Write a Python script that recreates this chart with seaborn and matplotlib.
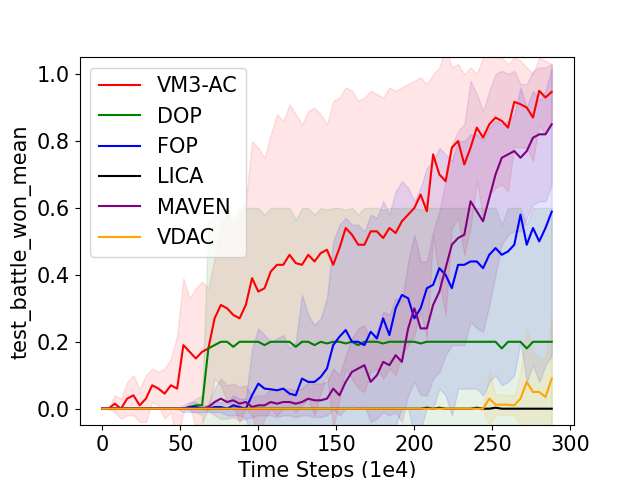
import numpy as np
import pandas as pd
import matplotlib
matplotlib.use('Agg')
import matplotlib.pyplot as plt
import seaborn as sns

plt.rcParams['font.size'] = 15

# x axis: time steps (1e4), sampled every 4
steps = np.arange(0, 289, 4)

algos = ['VM3-AC', 'DOP', 'FOP', 'LICA', 'MAVEN', 'VDAC']
colors = ['red', 'green', 'blue', 'black', 'purple', 'orange']

# mean curves
vm3ac_mean = [0, 0, 0.015, 0, 0.03, 0.04, 0.01, 0.03, 0.07, 0.06,
              0.045, 0.07, 0.06, 0.19, 0.17, 0.15, 0.17, 0.18, 0.27, 0.31,
              0.30, 0.28, 0.27, 0.31, 0.39, 0.35, 0.36, 0.41, 0.43, 0.43,
              0.46, 0.435, 0.43, 0.46, 0.44, 0.465, 0.475, 0.43, 0.48, 0.54,
              0.52, 0.49, 0.49, 0.53, 0.53, 0.51, 0.54, 0.525, 0.56, 0.58,
              0.60, 0.64, 0.59, 0.76, 0.70, 0.68, 0.78, 0.80, 0.73, 0.78,
              0.84, 0.81, 0.85, 0.87, 0.86, 0.84, 0.917, 0.91, 0.90, 0.87,
              0.95, 0.93, 0.947]
dop_mean = [0, 0, 0, 0, 0, 0, 0, 0, 0, 0,
            0, 0, 0, 0, 0.005, 0.01, 0.01, 0.18, 0.19, 0.2,
            0.2, 0.185, 0.2, 0.2, 0.2, 0.2, 0.19, 0.2, 0.2, 0.2,
            0.2, 0.185, 0.2, 0.2, 0.19, 0.2, 0.195, 0.2, 0.2, 0.195,
            0.2, 0.19, 0.2, 0.2, 0.2, 0.195, 0.2, 0.2, 0.2, 0.2,
            0.2, 0.195, 0.2, 0.2, 0.2, 0.2, 0.2, 0.2, 0.2, 0.2,
            0.2, 0.2, 0.2, 0.2, 0.18, 0.2, 0.2, 0.2, 0.18, 0.2,
            0.2, 0.2, 0.2]
fop_mean = [0, 0, 0, 0, 0, 0, 0, 0, 0, 0,
            0, 0, 0, 0, 0.005, 0.005, 0, 0, 0.005, 0.005,
            0, 0.01, 0.005, 0.0, 0.04, 0.075, 0.06, 0.058, 0.055, 0.06,
            0.045, 0.04, 0.09, 0.08, 0.08, 0.095, 0.12, 0.19, 0.215, 0.235,
            0.2, 0.2, 0.19, 0.23, 0.21, 0.27, 0.22, 0.30, 0.34, 0.33,
            0.27, 0.30, 0.36, 0.37, 0.42, 0.40, 0.36, 0.43, 0.43, 0.44,
            0.44, 0.42, 0.46, 0.48, 0.46, 0.47, 0.49, 0.58, 0.49, 0.54,
            0.50, 0.54, 0.589]
lica_mean = [0] * 52 + [0.003, 0, 0.003, 0, 0, 0, 0, 0, 0.003, 0,
                        0, 0.003, 0, 0, 0, 0, 0, 0, 0, 0, 0]
maven_mean = [0, 0, 0, 0, 0, 0, 0, 0, 0, 0,
              0, 0, 0, 0, 0, 0, 0, 0.005, 0.02, 0.03,
              0.02, 0.025, 0.015, 0.02, 0.005, 0.01, 0.01, 0.02, 0.015, 0.02,
              0.02, 0.015, 0.02, 0.03, 0.025, 0.025, 0.03, 0.06, 0.04, 0.08,
              0.11, 0.12, 0.13, 0.08, 0.10, 0.14, 0.13, 0.16, 0.14, 0.24,
              0.30, 0.24, 0.24, 0.31, 0.35, 0.42, 0.49, 0.51, 0.52, 0.62,
              0.59, 0.56, 0.63, 0.70, 0.75, 0.76, 0.77, 0.75, 0.77, 0.81,
              0.82, 0.82, 0.85]
vdac_mean = [0] * 62 + [0.03, 0.012, 0.012, 0.012, 0.01, 0.03, 0.08, 0.05,
                        0.05, 0.035, 0.09]

# upper edge of shaded band (mean + std)
vm3ac_hi = [0, 0, 0.04, 0.03, 0.08, 0.10, 0.06, 0.10, 0.12, 0.11,
            0.12, 0.15, 0.22, 0.39, 0.33, 0.36, 0.38, 0.36, 0.45, 0.55,
            0.58, 0.55, 0.58, 0.62, 0.80, 0.78, 0.75, 0.82, 0.88, 0.86,
            0.91, 0.88, 0.85, 0.89, 0.90, 0.88, 0.85, 0.92, 0.93, 0.96,
            0.95, 0.92, 0.93, 0.95, 0.94, 0.93, 0.96, 0.95, 0.96, 0.97,
            0.98, 0.99, 0.97, 1.0, 1.02, 1.08, 1.02, 1.03, 1.0, 1.02,
            1.0, 1.05, 1.06, 1.08, 1.05, 1.03, 1.05, 1.04, 1.02, 1.0,
            1.05, 1.04, 1.03]
dop_std = [0, 0, 0, 0, 0, 0, 0, 0, 0, 0,
           0, 0, 0, 0, 0.01, 0.02, 0.03, 0.38, 0.39, 0.4,
           0.4, 0.38, 0.4, 0.4, 0.4, 0.4, 0.39, 0.4, 0.4, 0.4,
           0.4, 0.38, 0.4, 0.4, 0.39, 0.4, 0.4, 0.4, 0.4, 0.4,
           0.4, 0.39, 0.4, 0.4, 0.4, 0.4, 0.4, 0.4, 0.4, 0.4,
           0.4, 0.4, 0.4, 0.4, 0.4, 0.4, 0.4, 0.4, 0.4, 0.4,
           0.4, 0.4, 0.4, 0.4, 0.37, 0.4, 0.4, 0.4, 0.37, 0.4,
           0.4, 0.4, 0.4]
fop_hi = [0, 0, 0, 0, 0, 0, 0, 0, 0, 0,
          0, 0, 0, 0.01, 0.02, 0.02, 0.01, 0.01, 0.02, 0.02,
          0.02, 0.04, 0.03, 0.03, 0.18, 0.24, 0.22, 0.20, 0.21, 0.22,
          0.18, 0.20, 0.34, 0.28, 0.25, 0.27, 0.33, 0.50, 0.55, 0.57,
          0.55, 0.55, 0.53, 0.58, 0.57, 0.62, 0.58, 0.65, 0.68, 0.66,
          0.62, 0.66, 0.72, 0.74, 0.78, 0.76, 0.74, 0.80, 0.80, 0.82,
          0.82, 0.80, 0.84, 0.86, 0.85, 0.86, 0.88, 0.96, 0.90, 0.95,
          0.92, 0.95, 1.02]
lica_std = [0] * 73
maven_std = [0, 0, 0, 0, 0, 0, 0, 0, 0, 0,
             0, 0, 0, 0, 0, 0, 0, 0.01, 0.04, 0.06,
             0.05, 0.05, 0.05, 0.05, 0.03, 0.03, 0.03, 0.04, 0.04, 0.04,
             0.04, 0.04, 0.04, 0.05, 0.05, 0.05, 0.05, 0.06, 0.06, 0.08,
             0.10, 0.12, 0.12, 0.12, 0.13, 0.15, 0.15, 0.17, 0.18, 0.20,
             0.22, 0.20, 0.20, 0.22, 0.24, 0.26, 0.30, 0.32, 0.33, 0.36,
             0.35, 0.33, 0.32, 0.30, 0.26, 0.24, 0.24, 0.22, 0.20, 0.20,
             0.20, 0.20, 0.18]
vdac_std = [0] * 61 + [0.005, 0.08, 0.03, 0.03, 0.03, 0.03, 0.08, 0.16, 0.12,
                       0.10, 0.12, 0.18]

means = [vm3ac_mean, dop_mean, fop_mean, lica_mean, maven_mean, vdac_mean]
stds = [np.array(vm3ac_hi) - np.array(vm3ac_mean), dop_std,
        np.array(fop_hi) - np.array(fop_mean), lica_std, maven_std, vdac_std]

df = pd.concat([pd.DataFrame({'step': steps, 'value': m, 'algo': a})
                for a, m in zip(algos, means)], ignore_index=True)

fig, ax = plt.subplots(figsize=(6.38, 4.78), dpi=100)
sns.lineplot(data=df, x='step', y='value', hue='algo', hue_order=algos,
             palette=dict(zip(algos, colors)), errorbar=None, linewidth=1.5, ax=ax)

for m, s, c in zip(means, stds, colors):
    m = np.array(m, dtype=float)
    s = np.array(s, dtype=float)
    ax.fill_between(steps, m - s, m + s, color=c, alpha=0.1)

ax.set_ylim(-0.05, 1.05)
ax.set_xlabel('Time Steps (1e4)')
ax.set_ylabel('test_battle_won_mean')
ax.legend(loc='upper left', fontsize=15)

plt.savefig('out.png', dpi=100)
